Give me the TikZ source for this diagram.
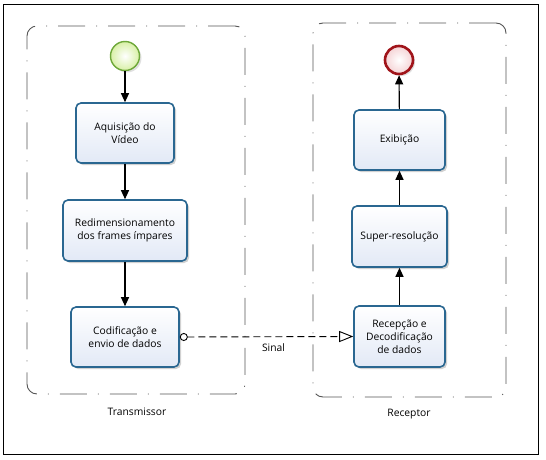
\documentclass[tikz,border=0pt]{standalone}
\usepackage{fontspec}
\setmainfont{Open Sans}
\usetikzlibrary{arrows.meta,shadows,positioning}
\definecolor{boxborder}{HTML}{2A6791}
\definecolor{boxfill}{HTML}{E2E9F6}
\definecolor{startborder}{HTML}{6EA83A}
\definecolor{startfill}{HTML}{D8F0A6}
\definecolor{endborder}{HTML}{A0141A}
\definecolor{endfill}{HTML}{F5D3D5}
\definecolor{poolgray}{HTML}{555555}
\tikzset{
  taskbox/.style={draw=boxborder, line width=1.6pt, rounded corners=5pt,
    top color=white, bottom color=boxfill, align=center,
    font=\fontsize{10.3}{13}\selectfont, inner sep=0pt,
    drop shadow={shadow xshift=2pt, shadow yshift=-2pt, opacity=0.18, fill=black}},
  startev/.style={circle, draw=startborder, line width=1.4pt, minimum size=29pt, inner sep=0pt,
    inner color=white, outer color=startfill,
    drop shadow={shadow xshift=2pt, shadow yshift=-2pt, opacity=0.12, fill=black}},
  endev/.style={circle, draw=endborder, line width=2.6pt, minimum size=28pt, inner sep=0pt,
    inner color=white, outer color=endfill,
    drop shadow={shadow xshift=2pt, shadow yshift=-2pt, opacity=0.12, fill=black}},
  pool/.style={draw=poolgray, line width=0.9pt, rounded corners=10pt,
    dash pattern=on 27pt off 11pt on 1pt off 11pt},
  flow/.style={-{Triangle[length=9pt,width=8pt]}, line width=1.1pt, black},
  msgflow/.style={{Circle[open,length=8pt,width=8pt]}-{Triangle[open,length=14pt,width=11pt,fill=white]},
    line width=0.9pt, dash pattern=on 7pt off 4pt},
  lbl/.style={font=\fontsize{10.3}{12}\selectfont, inner sep=0pt}
}
\begin{document}
\begin{tikzpicture}[x=1pt,y=-1pt]
\useasboundingbox (0,0) rectangle (546,460);
\node[draw=black, line width=0.8pt, minimum width=535pt, minimum height=450pt, inner sep=0pt] (frame) at (270.5,229) {};

% pools
\node[pool, minimum width=218pt, minimum height=368pt, inner sep=0pt] (txpool) at (136,210) {};
\node[pool, minimum width=193pt, minimum height=374pt, inner sep=0pt] (rxpool) at (409.5,210) {};
\node[lbl] (txlbl) at (137,412) {Transmissor};
\node[lbl] (rxlbl) at (409,414) {Receptor};

% transmitter
\node[startev] (start) at (125,56) {};
\node[taskbox, minimum width=98pt, minimum height=60pt] (aq) at (125,133) {Aquisição do\\Vídeo};
\node[taskbox, minimum width=124pt, minimum height=61pt] (redim) at (125,230.5) {Redimensionamento\\dos frames ímpares};
\node[taskbox, minimum width=108pt, minimum height=60pt] (cod) at (125,337) {Codificação e\\envio de dados};

% receiver
\node[endev] (end) at (399,60) {};
\node[taskbox, minimum width=91pt, minimum height=60pt] (exib) at (399.5,140) {Exibição};
\node[taskbox, minimum width=95pt, minimum height=61pt] (super) at (399.5,236.5) {Super-resolução};
\node[taskbox, minimum width=91pt, minimum height=61pt] (rec) at (399.5,336.5) {Recepção e\\Decodificação\\de dados};

% flows
\draw[flow] (start) -- (aq);
\draw[flow] (aq) -- (redim);
\draw[flow] (redim) -- (cod);
\draw[flow] (rec) -- (super);
\draw[flow] (super) -- (exib);
\draw[flow] (exib) -- (end);

% message flow
\draw[msgflow] (cod.east) -- node[lbl, below=6pt, xshift=7pt] (sinal) {Sinal} (rec.west);
\end{tikzpicture}
\end{document}
